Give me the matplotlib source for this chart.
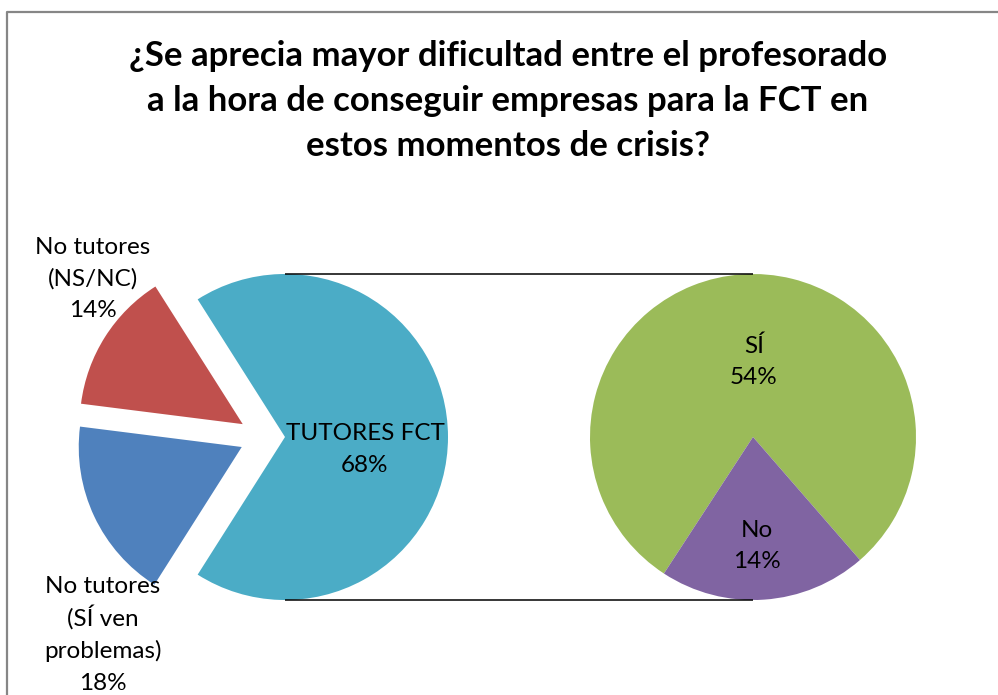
import matplotlib
matplotlib.use("Agg")
import matplotlib.pyplot as plt

# Data
title_lines = ["¿Se aprecia mayor dificultad entre el profesorado",
               "a la hora de conseguir empresas para la FCT en",
               "estos momentos de crisis?"]
left_labels = ["TUTORES FCT", "No tutores\n(NS/NC)", "No tutores\n(SÍ ven\nproblemas)"]
left_values = [68, 14, 18]
left_colors = ["#4BACC6", "#C0504D", "#4F81BD"]
right_labels = ["SÍ", "No"]
right_values = [54, 14]
right_colors = ["#9BBB59", "#8064A2"]

W, H = 998, 695
fig = plt.figure(figsize=(W / 100, H / 100), dpi=100)
ax = fig.add_axes([0, 0, 1, 1])

font = "Lato"
R = 163
left_c = (263, H - 437)
right_c = (753, H - 437)
explode = [22, 24, 23.5]  # pie() explode is in data units here

# first pie: the "other" slice points right, the rest exploded
start = -360 * left_values[0] / sum(left_values) / 2
ax.pie(left_values, colors=left_colors, startangle=start, counterclock=True,
       radius=R, center=left_c, explode=explode,
       wedgeprops=dict(linewidth=0), frame=True)

# second pie
ax.pie(right_values, colors=right_colors, startangle=311, counterclock=True,
       radius=R, center=right_c, wedgeprops=dict(linewidth=0), frame=True)

ax.set_xlim(0, W)
ax.set_ylim(0, H)
ax.set_aspect("equal")
ax.axis("off")

# connector lines
x0 = left_c[0] + explode[0]
for yy in (left_c[1] + R, left_c[1] - R):
    ax.plot([x0, right_c[0]], [yy, yy], color="black", lw=1.1, solid_capstyle="butt")

# frame
ax.plot([7, 7, W + 5], [-5, H - 12, H - 12], color="#868686", lw=1.6)


def block(x, y_first, text, step, **kw):
    # one line at a time so spacing stays even
    for i, line in enumerate(text.split("\n")):
        ax.text(x, H - (y_first + i * step), line, ha="center", va="baseline", **kw)


lab_kw = dict(fontsize=17.5, family=font, color="black")
block(365, 440, f"{left_labels[0]}\n{left_values[0]}%", 32, **lab_kw)
block(93, 254, f"{left_labels[1]}\n{left_values[1]}%", 31.5, **lab_kw)
block(103, 593, f"{left_labels[2]}\n{left_values[2]}%", 32.3, **lab_kw)
block(754, 353, f"{right_labels[0]}\n{right_values[0]}%", 31, **lab_kw)
block(757, 537, f"{right_labels[1]}\n{right_values[1]}%", 31, **lab_kw)

block(508, 66, "\n".join(title_lines), 45, fontsize=25, fontweight="bold",
      family=font, color="black")

fig.savefig("out.png", dpi=100)
